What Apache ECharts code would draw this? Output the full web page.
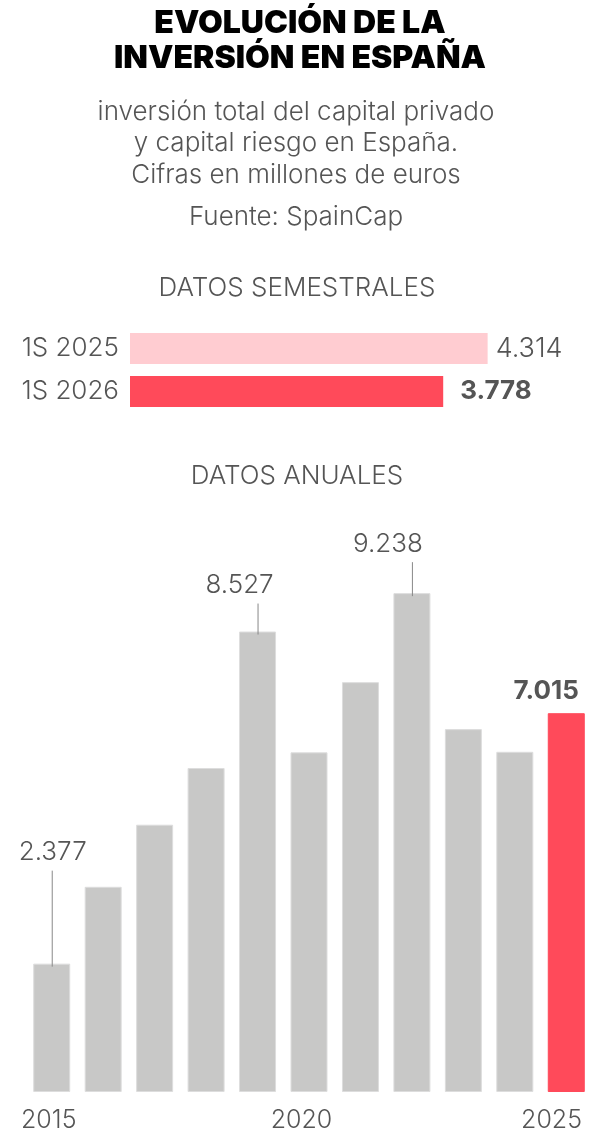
<!DOCTYPE html>
<html>
<head>
<meta charset="utf-8">
<script src="https://cdn.jsdelivr.net/npm/echarts@6/dist/echarts.min.js"></script>
<style>
  html, body { margin: 0; padding: 0; background: #fff; }
  #container { width: 600px; height: 1146px; }
</style>
</head>
<body>
<div id="container"></div>
<script>
var dom = document.getElementById('container');
var myChart = echarts.init(dom);

// datos semestrales
let semLabels = ['1S 2025', '1S 2026'];
let semValues = [4314, 3778];

// datos anuales (millones de euros)
let years = ['2015', '2016', '2017', '2018', '2019', '2020', '2021', '2022', '2023', '2024', '2025'];
let yearValues = [2377, 3800, 4950, 6000, 8527, 6290, 7590, 9238, 6720, 6300, 7015];
let yearTicks = ['2015', '2020', '2025'];

// años con etiqueta y linea guia
let annotated = ['2015', '2019', '2022'];

const GRAY = '#555555';
const FONT = 'Inter, "Noto Sans", sans-serif';
const RED = '#ff4a5a';

function fmt(v) {
    return String(v).replace(/\B(?=(\d{3})+(?!\d))/g, '.');
}

// estilo de las guias: largo de la linea y desplazamiento del texto
let leaderStyle = {
    '2015': { len: 93, dx: 1 },
    '2019': { len: 28, dx: -18 },
    '2022': { len: 31, dx: -24 }
};

let annData = annotated.map(function (y) {
    return [years.indexOf(y), yearValues[years.indexOf(y)]];
});

option = {
    backgroundColor: '#ffffff',
    animation: false,
    graphic: [
        {
            type: 'text', left: 'center', top: 6,
            style: {
                text: 'EVOLUCIÓN DE LA\nINVERSIÓN EN ESPAÑA',
                font: '900 32px ' + FONT, fill: '#000', textAlign: 'center', lineHeight: 35
            }
        },
        {
            type: 'text', x: 296, y: 96,
            style: {
                text: 'inversión total del capital privado\ny capital riesgo en España.\nCifras en millones de euros',
                font: '300 26px ' + FONT, fill: GRAY, textAlign: 'center', lineHeight: 31.5
            }
        },
        {
            type: 'text', x: 296, y: 204,
            style: { text: 'Fuente: SpainCap', font: '300 26px ' + FONT, fill: GRAY, textAlign: 'center' }
        },
        {
            type: 'text', x: 297, y: 275,
            style: { text: 'DATOS SEMESTRALES', font: '300 26px ' + FONT, fill: GRAY, textAlign: 'center' }
        },
        {
            type: 'text', x: 297, y: 463,
            style: { text: 'DATOS ANUALES', font: '300 26px ' + FONT, fill: GRAY, textAlign: 'center' }
        }
    ],
    grid: [
        { left: 130, top: 327, width: 414.5, height: 86 },
        { left: 26, right: 8, top: 552, bottom: 54 },
        { left: 21, right: 18, top: 552, bottom: 54 }
    ],
    xAxis: [
        {
            gridIndex: 0, type: 'value', min: 0, max: 5000,
            show: false
        },
        {
            gridIndex: 1, type: 'category', data: years,
            axisLine: { show: false }, axisTick: { show: false }, axisLabel: { show: false }
        },
        {
            gridIndex: 2, type: 'value', min: 2015, max: 2025, interval: 5,
            splitLine: { show: false }, axisLine: { show: false }, axisTick: { show: false },
            axisLabel: {
                fontFamily: FONT, fontWeight: 300, fontSize: 25, color: GRAY, margin: 16,
                alignMinLabel: 'left', alignMaxLabel: 'right',
                formatter: function (v) {
                    return yearTicks.indexOf(String(v)) >= 0 ? String(v) : '';
                }
            }
        }
    ],
    yAxis: [
        {
            gridIndex: 0, type: 'category', data: semLabels, inverse: true,
            axisLine: { show: false }, axisTick: { show: false },
            axisLabel: { fontFamily: FONT, fontWeight: 300, fontSize: 26, color: GRAY, margin: 11 }
        },
        {
            gridIndex: 1, type: 'value', min: 0, max: 10000,
            show: false
        },
        {
            gridIndex: 2, type: 'value', min: 0, max: 10000,
            show: false
        }
    ],
    series: [
        {
            type: 'bar', xAxisIndex: 0, yAxisIndex: 0,
            barWidth: 31,
            data: semValues.map(function (v, i) {
                return {
                    value: v,
                    itemStyle: { color: i === 0 ? '#ffccd1' : RED },
                    label: i === 0
                        ? { distance: 8, fontWeight: 300, fontSize: 27 }
                        : { distance: 17, fontWeight: 700, fontSize: 26 }
                };
            }),
            label: {
                show: true, position: 'right',
                fontFamily: FONT, fontSize: 26, color: GRAY,
                formatter: function (p) { return fmt(p.value); }
            }
        },
        {
            type: 'bar', xAxisIndex: 1, yAxisIndex: 1,
            barWidth: 37,
            itemStyle: { color: '#c8c8c7', borderColor: '#dddddd', borderWidth: 1 },
            data: yearValues.map(function (v, i) {
                if (i === yearValues.length - 1) {
                    return {
                        value: v,
                        itemStyle: { color: RED, borderColor: RED },
                        label: {
                            show: true, position: ['100%', 0], align: 'right', verticalAlign: 'bottom',
                            offset: [-6, -9],
                            fontFamily: FONT, fontWeight: 700, fontSize: 26, color: GRAY,
                            formatter: function (p) { return fmt(p.value); }
                        }
                    };
                }
                return v;
            })
        },
        {
            type: 'custom', xAxisIndex: 1, yAxisIndex: 1,
            silent: true, z: 5,
            data: annData,
            renderItem: function (params, api) {
                var idx = api.value(0);
                var val = api.value(1);
                var pt = api.coord([idx, val]);
                var st = leaderStyle[years[idx]];
                var top = pt[1] - st.len;
                return {
                    type: 'group',
                    children: [
                        {
                            type: 'line',
                            shape: { x1: pt[0] + 0.5, y1: pt[1] + 3, x2: pt[0] + 0.5, y2: top },
                            style: { stroke: '#888', lineWidth: 1 }
                        },
                        {
                            type: 'text',
                            x: pt[0] + st.dx, y: top - 5,
                            style: {
                                text: fmt(val), textAlign: 'center', textVerticalAlign: 'bottom',
                                font: '300 26px ' + FONT, fill: GRAY
                            }
                        }
                    ]
                };
            }
        }
    ]
};
myChart.setOption(option);

window.addEventListener('resize', function () {
    myChart.resize();
});
</script>
</body>
</html>
